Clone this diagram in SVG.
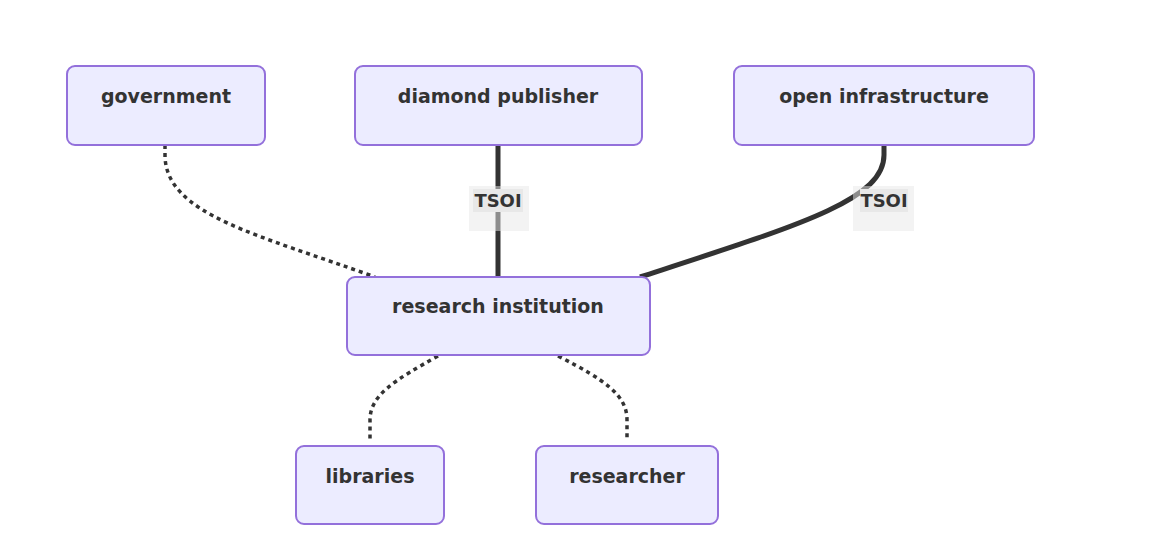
<svg xmlns="http://www.w3.org/2000/svg" width="1165" height="559" viewBox="0 0 1165 559">
<style>
.node rect{fill:#ececff;stroke:#9370db;stroke-width:2}
.node text{font-family:"DejaVu Sans",Verdana,sans-serif;font-size:19px;font-weight:bold;fill:#333;text-anchor:middle}
.dot{fill:none;stroke:#333;stroke-width:3.5;stroke-dasharray:4 4}
.thick{fill:none;stroke:#333;stroke-width:5}
.lblout{fill:#e8e8e8;opacity:0.5}
.lblin{fill:#e8e8e8}
.lbl{font-family:"DejaVu Sans",Verdana,sans-serif;font-size:18px;font-weight:bold;fill:#333;text-anchor:middle}
</style>
<rect width="1165" height="559" fill="#fff"/>
<g id="connectors">
<path class="dot" d="M165,145 L165,155 C165,215 260,235 375,277"/>
<path class="thick" d="M498,145 L498,277"/>
<path class="thick" d="M884,145 L884,155 C884,200 800,225 640,277"/>
<path class="dot" d="M438,356 C395,380 370,395 370,420 L370,440"/>
<path class="dot" d="M558,356 C605,380 627,395 627,420 L627,440"/>
<g id="label-1">
<rect class="lblout" x="469" y="186" width="60" height="45"/>
<rect class="lblin" x="473" y="189" width="50" height="23"/>
<text class="lbl" x="498" y="207">TSOI</text>
</g>
<g id="label-2">
<rect class="lblout" x="853" y="186" width="61" height="45"/>
<rect class="lblin" x="860" y="189" width="48" height="23"/>
<text class="lbl" x="884" y="207">TSOI</text>
</g>
</g>
<g id="government" class="node"><rect x="67" y="66" width="198" height="79" rx="8"/><text x="166" y="103">government</text></g>
<g id="diamond-publisher" class="node"><rect x="355" y="66" width="287" height="79" rx="8"/><text x="498" y="103">diamond publisher</text></g>
<g id="open-infrastructure" class="node"><rect x="734" y="66" width="300" height="79" rx="8"/><text x="884" y="103">open infrastructure</text></g>
<g id="research-institution" class="node"><rect x="347" y="277" width="303" height="78" rx="8"/><text x="498" y="313">research institution</text></g>
<g id="libraries" class="node"><rect x="296" y="446" width="148" height="78" rx="8"/><text x="370" y="483">libraries</text></g>
<g id="researcher" class="node"><rect x="536" y="446" width="182" height="78" rx="8"/><text x="627" y="483">researcher</text></g>
</svg>
